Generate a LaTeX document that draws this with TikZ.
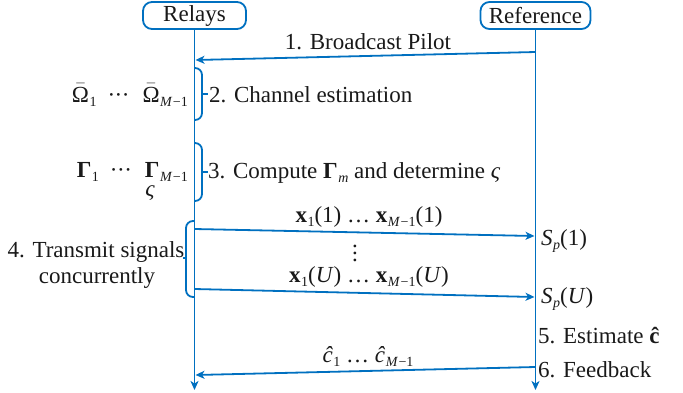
\documentclass[tikz,border=0pt]{standalone}
\usepackage{amsmath}
\usepackage{fontspec}
\setmainfont{Liberation Serif}
\usetikzlibrary{arrows.meta}
\definecolor{lblue}{RGB}{0,112,192}
\newcommand{\ti}[1]{\textit{#1}}
\newcommand{\sub}[1]{\kern0.5pt\raisebox{-4.5pt}{\fontsize{14}{14}\selectfont #1}}
\newcommand{\Mm}{\sub{\ti{M}\kern0.5pt−1}}
\newcommand{\cds}{·\kern-0.5pt·\kern-0.5pt·}
\begin{document}
\begin{tikzpicture}[x=1pt,y=-1pt,
  every node/.style={font=\fontsize{23}{26}\selectfont, inner sep=0pt, text=black!90},
  actor/.style={draw=lblue, line width=1.8pt, rounded corners=9pt, minimum height=27pt, inner sep=0pt},
  tipstyle/.style={-{Stealth[length=9pt,width=8pt,inset=2.5pt]}},
  life/.style={draw=lblue, line width=1.8pt, tipstyle},
  msg/.style={draw=lblue, line width=1.8pt, tipstyle},
  brace/.style={draw=lblue, line width=1.8pt, rounded corners=7pt}]
\useasboundingbox (0,0) rectangle (683,392);
% actors
\node[actor, minimum width=103pt] (relays) at (194.5,15.5) {Relays};
\node[actor, minimum width=110pt] (reference) at (535.5,15.5) {Reference};
% lifelines
\coordinate (relend) at (194.5,390);
\coordinate (refend) at (535.5,390);
\draw[life] (relays.south) -- (relend);
\draw[life] (reference.south) -- (refend);
% messages
\coordinate (p1s) at (535.5,52);
\coordinate (p1e) at (195.5,60);
\draw[msg] (p1s) -- (p1e);
\coordinate (x1s) at (194.5,229);
\coordinate (x1e) at (534.5,236);
\draw[msg] (x1s) -- (x1e);
\coordinate (xUs) at (194.5,289);
\coordinate (xUe) at (534.5,297);
\draw[msg] (xUs) -- (xUe);
\coordinate (fbs) at (535.5,367);
\coordinate (fbe) at (195.5,375);
\draw[msg] (fbs) -- (fbe);
% braces
\draw[brace] (194.5,68) -| (202,120) -- (194.5,120);
\draw[brace] (202,94) -- (207.5,94);
\draw[brace] (194.5,143) -| (202,201) -- (194.5,201);
\draw[brace] (202,172) -- (207.5,172);
\draw[brace] (194.5,221) -| (186,297) -- (194.5,297);
\draw[brace] (186,258) -- (182.5,258);
% labels
\node[anchor=base] (l1) at (368,49) {1. Broadcast Pilot};
\node[anchor=base west] (l2) at (209,102) {2. Channel estimation};
\node[anchor=base east] (om) at (188,102) {$\bar{\text{Ω}}$\sub{1}\hspace{11pt}\cds\hspace{13pt}$\bar{\text{Ω}}$\Mm};
\node[anchor=base west] (l3) at (208,178) {3. Compute \textbf{Γ}\sub{\ti{m}} and determine \ti{ς}};
\node[anchor=base east] (gam) at (188,177) {\textbf{Γ}\sub{1}\hspace{11pt}\cds\hspace{13pt}\textbf{Γ}\Mm};
\node[anchor=base] (vs) at (150,196) {\ti{ς}};
\node[anchor=base] (l4a) at (96,257) {4. Transmit signals};
\node[anchor=base] (l4b) at (97,283) {concurrently};
\node[anchor=base] (x1) at (369,222) {\textbf{x}\sub{1}(1) \ldots{} \textbf{x}\Mm(1)};
\node (vd) at (355,253) {\vbox{\baselineskip=7pt\lineskiplimit=-10pt\hbox{.}\hbox{.}\hbox{.}}};
\node[anchor=base] (xU) at (369,282) {\textbf{x}\sub{1}(\ti{U}) \ldots{} \textbf{x}\Mm(\ti{U})};
\node[anchor=base west] (sp1) at (541,245) {\ti{S}\sub{\ti{p}}(1)};
\node[anchor=base west] (spU) at (541,303) {\ti{S}\sub{\ti{p}}(\ti{U})};
\node[anchor=base west] (l5) at (538,343) {5. Estimate \textbf{ĉ}};
\node[anchor=base west] (l6) at (538,377) {6. Feedback};
\node[anchor=base] (ch) at (368,362) {\ti{ĉ}\sub{1} \ldots{} \ti{ĉ}\Mm};
\end{tikzpicture}
\end{document}
